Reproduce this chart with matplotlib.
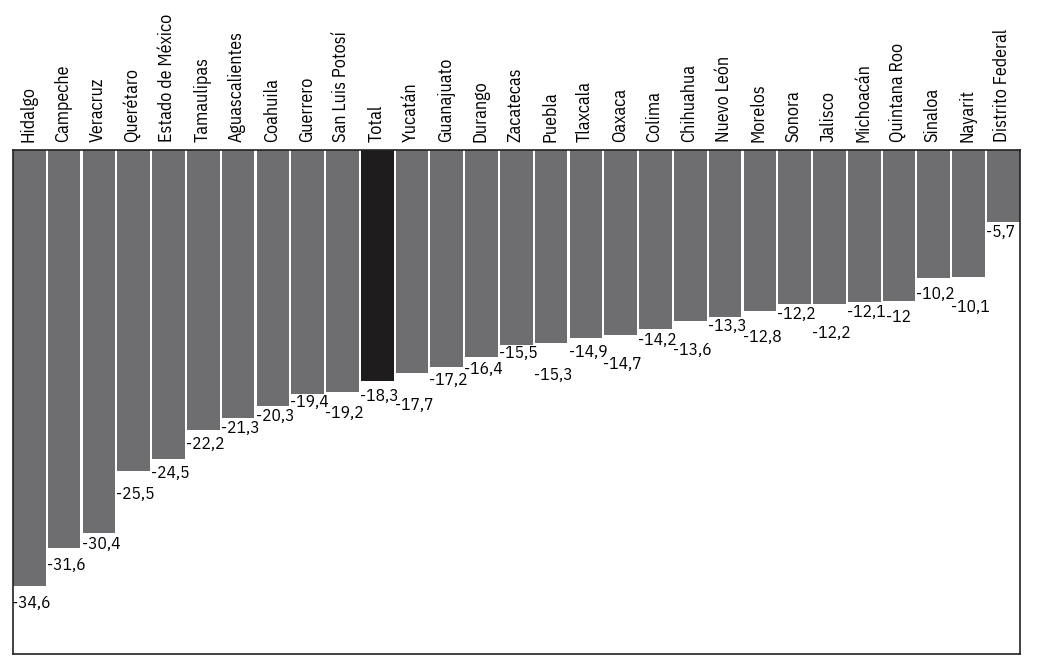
import numpy as np
import matplotlib
matplotlib.use("Agg")
import matplotlib.pyplot as plt

estados = ["Hidalgo", "Campeche", "Veracruz", "Querétaro", "Estado de México",
           "Tamaulipas", "Aguascalientes", "Coahuila", "Guerrero", "San Luis Potosí",
           "Total", "Yucatán", "Guanajuato", "Durango", "Zacatecas", "Puebla",
           "Tlaxcala", "Oaxaca", "Colima", "Chihuahua", "Nuevo León", "Morelos",
           "Sonora", "Jalisco", "Michoacán", "Quintana Roo", "Sinaloa", "Nayarit",
           "Distrito Federal"]
valores = [-34.6, -31.6, -30.4, -25.5, -24.5, -22.2, -21.3, -20.3, -19.4, -19.2,
           -18.3, -17.7, -17.2, -16.4, -15.5, -15.3, -14.9, -14.7, -14.2, -13.6,
           -13.3, -12.8, -12.2, -12.2, -12.1, -12.0, -10.2, -10.1, -5.7]

# desplazamiento de cada etiqueta respecto a la esquina de la barra (pixeles)
desplaz = [17, 17, 11, 23, 14, 14, 10, 10, 8, 21, 15, 32, 13, 12, 8, 32,
           14, 29, 11, 29, 9, 26, 10, 29, 10, 16, 16, 30, 10]
desplaz_x = [-1] * 25 + [3] + [-1] * 3

plt.rcParams["font.family"] = ["IBM Plex Sans Condensed", "DejaVu Sans"]

fig = plt.figure(figsize=(10.4, 6.66), dpi=100)
ax = fig.add_axes([0.0125, 0.018, 0.968, 0.757])

x = np.arange(len(estados))
ancho = 0.94
colores = ["#1e1c1d" if e == "Total" else "#6e6d6f" for e in estados]
ax.bar(x, valores, width=ancho, color=colores, align="center")

ax.set_xlim(-ancho / 2, len(estados) - 1 + ancho / 2)
ax.set_ylim(-40, 0)
ax.set_xticks([])
ax.set_yticks([])
for s in ax.spines.values():
    s.set_linewidth(1.2)
    s.set_color("#222222")

for i, (e, v) in enumerate(zip(estados, valores)):
    ax.annotate(e, (i, 0), xytext=(-1, 8), textcoords="offset pixels",
                rotation=90, ha="center", va="bottom", fontsize=13)
    txt = ("%g" % v).replace(".", ",")
    ax.annotate(txt, (i - ancho / 2, v), xytext=(desplaz_x[i], -desplaz[i]),
                textcoords="offset pixels", ha="left", va="center", fontsize=12.5)

fig.savefig("out.png", dpi=100)
